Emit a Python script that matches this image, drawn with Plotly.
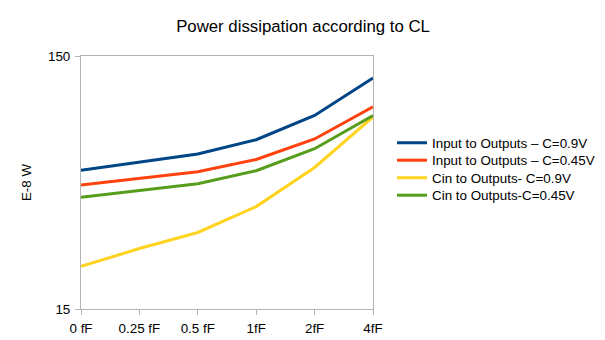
import plotly.graph_objects as go

categories = ["0 fF", "0.25 fF", "0.5 fF", "1fF", "2fF", "4fF"]
input_09 = [53.0, 57.2, 61.5, 70.0, 87.3, 122.8]
input_045 = [46.4, 49.4, 52.3, 58.5, 70.5, 94.4]
cin_09 = [22.1, 26.0, 30.1, 38.1, 54.4, 86.1]
cin_045 = [41.5, 44.1, 46.9, 52.8, 64.5, 87.3]

series_names = ["Input to Outputs – C=0.9V", "Input to Outputs – C=0.45V",
                "Cin to Outputs- C=0.9V", "Cin to Outputs-C=0.45V"]
series_values = [input_09, input_045, cin_09, cin_045]
colors = ["#004586", "#ff420e", "#ffd320", "#579d1c"]
legend_ids = ["legend", "legend2", "legend3", "legend4"]
legend_rows_px = [143, 160.5, 178, 195.5]

font = "Liberation Sans, Arial, sans-serif"
W, H = 605, 340
ML, MR, MT, MB = 81, 232, 56, 31
plot_h = H - MT - MB
plot_w = W - ML - MR
FS = 13.4

fig = go.Figure()
for name, vals, col, lid in zip(series_names, series_values, colors, legend_ids):
    fig.add_trace(go.Scatter(x=categories, y=vals, name=name, mode="lines",
                             line=dict(color=col, width=3), legend=lid))

legend_layout = {}
for lid, ypx in zip(legend_ids, legend_rows_px):
    legend_layout[lid] = dict(x=(392 - ML) / plot_w, xanchor="left",
                              y=(H - MB - ypx) / plot_h, yanchor="middle",
                              font=dict(size=FS, family=font, color="#000000"),
                              itemwidth=30, bgcolor="rgba(0,0,0,0)")

fig.update_layout(
    width=W, height=H,
    margin=dict(l=ML, r=MR, t=MT, b=MB, autoexpand=False),
    paper_bgcolor="white", plot_bgcolor="white",
    font=dict(family=font, size=FS, color="#000000"),
    title=dict(text="Power dissipation according to CL", x=303/W, xanchor="center",
               y=1 - 26/H, yanchor="middle", font=dict(size=16.8, family=font)),
    showlegend=True,
    xaxis=dict(type="category", range=[0, 5], showgrid=False, automargin=False,
               showline=True, linecolor="#b3b3b3", linewidth=1, mirror=True,
               ticks="outside", ticklen=5, tickcolor="#b3b3b3",
               ticklabelstandoff=2,
               tickfont=dict(size=FS, family=font), zeroline=False),
    yaxis=dict(type="log", range=[1.17609, 2.17609], automargin=False,
               tickvals=[15, 150], ticktext=["15", "150"],
               showgrid=False, showline=True, linecolor="#b3b3b3", linewidth=1, mirror=True,
               ticks="outside", ticklen=5, tickcolor="#b3b3b3",
               ticklabelstandoff=2,
               tickfont=dict(size=FS, family=font),
               title=dict(text="E-8 W", font=dict(size=FS, family=font), standoff=13)),
    **legend_layout,
)

fig.write_html("out.html", config={"displayModeBar": False},
               post_script="document.body.style.margin='0';")
